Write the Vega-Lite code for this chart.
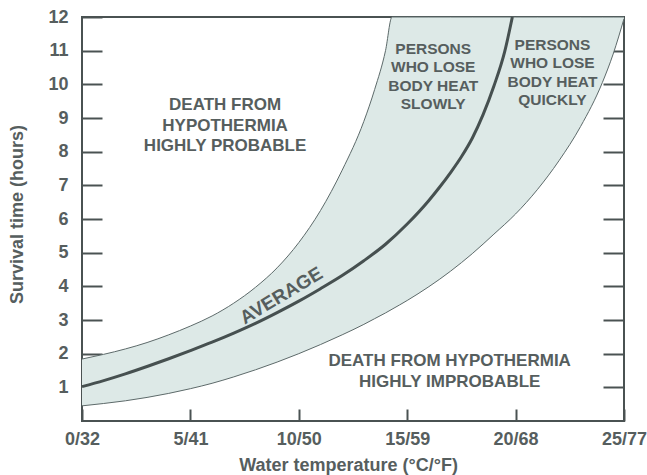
{
  "$schema": "https://vega.github.io/schema/vega-lite/v6.json",
  "width": 542,
  "height": 404,
  "autosize": {"type": "none"},
  "padding": {"left": 82, "top": 17, "right": 23, "bottom": 54},
  "background": "white",
  "config": {
    "view": {"stroke": "#4a5252", "strokeWidth": 2},
    "font": "Liberation Sans",
    "axis": {
      "domain": false,
      "grid": false,
      "tickColor": "#4a5252",
      "tickWidth": 2,
      "labelOverlap": false,
      "labelFlush": false,
      "labelFont": "Liberation Sans",
      "labelFontWeight": "bold",
      "labelColor": "#565e5e",
      "labelFontSize": 18,
      "titleFont": "Liberation Sans",
      "titleFontWeight": "bold",
      "titleColor": "#565e5e",
      "titleFontSize": 18
    }
  },
  "datasets": {
    "band": [
      {"temp": 0, "quick": 0.45, "slow": 1.84},
      {"temp": 1, "quick": 0.52, "slow": 1.98},
      {"temp": 2, "quick": 0.6, "slow": 2.14},
      {"temp": 3, "quick": 0.7, "slow": 2.33},
      {"temp": 4, "quick": 0.82, "slow": 2.56},
      {"temp": 5, "quick": 0.96, "slow": 2.82},
      {"temp": 6, "quick": 1.12, "slow": 3.12},
      {"temp": 7, "quick": 1.31, "slow": 3.5},
      {"temp": 8, "quick": 1.52, "slow": 3.97},
      {"temp": 9, "quick": 1.75, "slow": 4.55},
      {"temp": 10, "quick": 2.0, "slow": 5.3},
      {"temp": 11, "quick": 2.27, "slow": 6.25},
      {"temp": 12, "quick": 2.56, "slow": 7.45},
      {"temp": 13, "quick": 2.87, "slow": 8.9},
      {"temp": 13.5, "quick": 3.04, "slow": 9.85},
      {"temp": 14, "quick": 3.21, "slow": 11.0},
      {"temp": 14.3, "quick": 3.32, "slow": 12},
      {"temp": 15, "quick": 3.58, "slow": 12},
      {"temp": 16, "quick": 3.99, "slow": 12},
      {"temp": 17, "quick": 4.45, "slow": 12},
      {"temp": 18, "quick": 4.97, "slow": 12},
      {"temp": 19, "quick": 5.55, "slow": 12},
      {"temp": 20, "quick": 6.15, "slow": 12},
      {"temp": 21, "quick": 6.87, "slow": 12},
      {"temp": 22, "quick": 7.73, "slow": 12},
      {"temp": 23, "quick": 8.75, "slow": 12},
      {"temp": 24, "quick": 10.05, "slow": 12},
      {"temp": 24.5, "quick": 10.9, "slow": 12},
      {"temp": 25, "quick": 11.95, "slow": 12}
    ],
    "average": [
      {"temp": 0, "hours": 1.02},
      {"temp": 1, "hours": 1.2},
      {"temp": 2, "hours": 1.4},
      {"temp": 3, "hours": 1.62},
      {"temp": 4, "hours": 1.85},
      {"temp": 5, "hours": 2.09},
      {"temp": 6, "hours": 2.34},
      {"temp": 7, "hours": 2.61},
      {"temp": 8, "hours": 2.9},
      {"temp": 9, "hours": 3.22},
      {"temp": 10, "hours": 3.56},
      {"temp": 11, "hours": 3.93},
      {"temp": 12, "hours": 4.32},
      {"temp": 13, "hours": 4.76},
      {"temp": 14, "hours": 5.25},
      {"temp": 15, "hours": 5.85},
      {"temp": 16, "hours": 6.55},
      {"temp": 16.5, "hours": 6.95},
      {"temp": 17, "hours": 7.38},
      {"temp": 17.5, "hours": 7.85},
      {"temp": 18, "hours": 8.4},
      {"temp": 18.5, "hours": 9.1},
      {"temp": 19, "hours": 9.95},
      {"temp": 19.5, "hours": 10.98},
      {"temp": 19.85, "hours": 12}
    ],
    "zones": [
      {"temp": 6.6, "hours": 9.385, "label": "DEATH FROM\nHYPOTHERMIA\nHIGHLY PROBABLE"},
      {"temp": 16.96, "hours": 1.78, "label": "DEATH FROM HYPOTHERMIA\nHIGHLY IMPROBABLE"}
    ],
    "groups": [
      {"temp": 16.2, "hours": 11.05, "label": "PERSONS\nWHO LOSE\nBODY HEAT\nSLOWLY"},
      {"temp": 21.7, "hours": 11.17, "label": "PERSONS\nWHO LOSE\nBODY HEAT\nQUICKLY"}
    ],
    "avglabel": [
      {"temp": 9.5, "hours": 3.39, "label": "AVERAGE"}
    ]
  },
  "resolve": {"axis": {"y": "independent"}},
  "layer": [
    {
      "data": {"name": "band"},
      "mark": {"type": "area", "color": "#dde9e7", "interpolate": "monotone", "opacity": 1},
      "encoding": {
        "x": {
          "field": "temp",
          "type": "quantitative",
          "scale": {"domain": [0, 25], "nice": false, "zero": false},
          "axis": {
            "values": [0, 5, 10, 15, 20, 25],
            "labelExpr": "datum.value + '/' + round(datum.value * 9 / 5 + 32)",
            "title": "Water temperature (°C/°F)",
            "tickSize": -12,
            "labelPadding": 21,
            "titleX": 266,
            "titleY": 49,
            "titleBaseline": "alphabetic"
          }
        },
        "y": {
          "field": "quick",
          "type": "quantitative",
          "scale": {"domain": [0, 12], "nice": false},
          "axis": {
            "orient": "left",
            "values": [1, 2, 3, 4, 5, 6, 7, 8, 9, 10, 11, 12],
            "title": "Survival time (hours)",
            "tickSize": -20,
            "labelPadding": 34,
            "titleX": -65,
            "titleY": 197,
            "titleBaseline": "middle",
            "titleAngle": -90
          }
        },
        "y2": {"field": "slow"}
      }
    },
    {
      "data": {"name": "band"},
      "mark": {"type": "line", "color": "#5d6a6a", "strokeWidth": 1, "interpolate": "monotone"},
      "encoding": {
        "x": {"field": "temp", "type": "quantitative"},
        "y": {
          "field": "quick",
          "type": "quantitative",
          "axis": {
            "orient": "right",
            "values": [1, 2, 3, 4, 5, 6, 7, 8, 9, 10, 11],
            "labels": false,
            "title": null,
            "tickSize": -21
          }
        }
      }
    },
    {
      "data": {"name": "band"},
      "mark": {"type": "line", "color": "#5d6a6a", "strokeWidth": 1, "interpolate": "monotone"},
      "encoding": {
        "x": {"field": "temp", "type": "quantitative"},
        "y": {"field": "slow", "type": "quantitative", "axis": null}
      }
    },
    {
      "data": {"name": "average"},
      "mark": {"type": "line", "color": "#465050", "strokeWidth": 3, "interpolate": "monotone"},
      "encoding": {
        "x": {"field": "temp", "type": "quantitative"},
        "y": {"field": "hours", "type": "quantitative", "axis": null}
      }
    },
    {
      "data": {"name": "zones"},
      "mark": {"type": "text", "font": "Liberation Sans", "fontWeight": "bold", "fontSize": 17, "color": "#565e5e", "lineBreak": "\n", "lineHeight": 20.5, "align": "center", "baseline": "middle"},
      "encoding": {
        "x": {"field": "temp", "type": "quantitative"},
        "y": {"field": "hours", "type": "quantitative", "axis": null},
        "text": {"field": "label"}
      }
    },
    {
      "data": {"name": "groups"},
      "mark": {"type": "text", "font": "Liberation Sans", "fontWeight": "bold", "fontSize": 15.5, "color": "#565e5e", "lineBreak": "\n", "lineHeight": 18.3, "align": "center", "baseline": "middle"},
      "encoding": {
        "x": {"field": "temp", "type": "quantitative"},
        "y": {"field": "hours", "type": "quantitative", "axis": null},
        "text": {"field": "label"}
      }
    },
    {
      "data": {"name": "avglabel"},
      "mark": {"type": "text", "font": "Liberation Sans", "fontWeight": "bold", "fontSize": 19, "color": "#565e5e", "angle": -31, "align": "center", "baseline": "alphabetic", "dy": -7},
      "encoding": {
        "x": {"field": "temp", "type": "quantitative"},
        "y": {"field": "hours", "type": "quantitative", "axis": null},
        "text": {"field": "label"}
      }
    }
  ]
}
